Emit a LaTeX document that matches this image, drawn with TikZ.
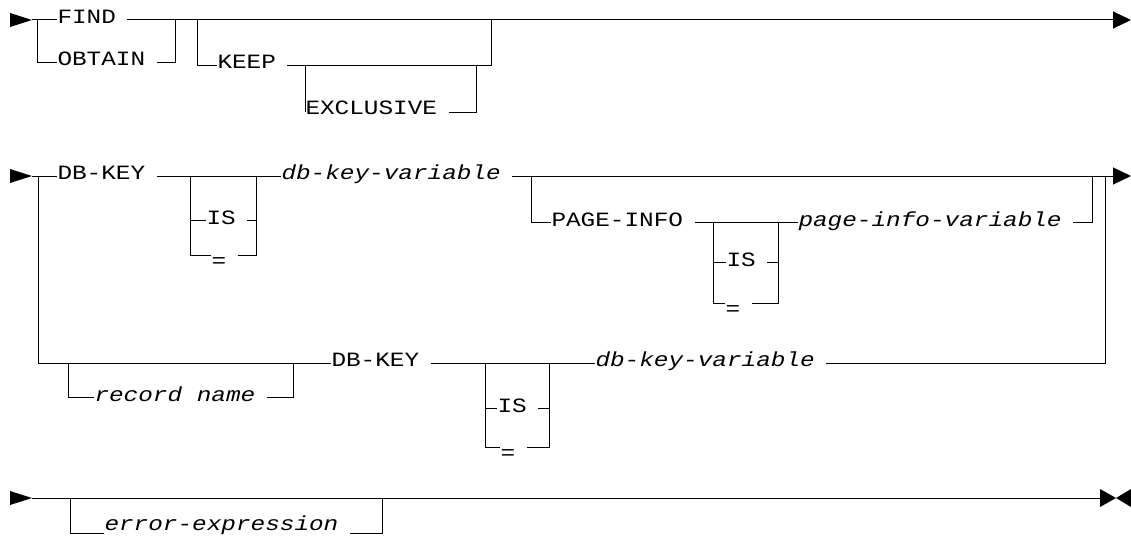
\documentclass[tikz,border=0pt]{standalone}
\usepackage{fontspec}
\setmonofont{Liberation Mono}[FakeStretch=1.2]
\usepackage{tikz}
\usetikzlibrary{arrows.meta}
\tikzset{
  kw/.style={inner sep=0pt, anchor=base west,
             font=\ttfamily\fontsize{20.3}{25}\selectfont,
             execute at end node={\hspace{11pt}}},
  var/.style={kw, font=\ttfamily\itshape\fontsize{20.3}{25}\selectfont},
  EA/.style={-{Triangle[length=18pt,width=17pt]}}
}

\begin{document}
\begin{tikzpicture}[x=1pt, y=-1pt, line width=1pt,
  SM/.style={fill=black}
]
\useasboundingbox (0,0) rectangle (1131,535);

% ---- Row 1: FIND / OBTAIN, KEEP, EXCLUSIVE ----
\coordinate (s1) at (32,20);
\coordinate (e1) at (1131,20);
\coordinate (a1) at (37,20);   \coordinate (a2) at (37,62);
\coordinate (a3) at (175,62);  \coordinate (a4) at (175,20);
\coordinate (k1) at (197,20);  \coordinate (k2) at (197,65);
\coordinate (k3) at (491,65);  \coordinate (k4) at (491,20);
\coordinate (x1) at (305,65);  \coordinate (x2) at (305,112);
\coordinate (x3) at (476,112); \coordinate (x4) at (476,65);

\node[kw] (FIND) at (57,24)  {FIND};
\node[kw] (OBT)  at (57,65)  {OBTAIN};
\node[kw] (KEEP) at (217,68) {KEEP};
\node[kw] (EXCL) at (305,114) {EXCLUSIVE};

\fill[SM] (s1) -- ++(-22,-7) -- ++(0,14) -- cycle;
\draw (s1) -- (FIND.west |- s1);
\draw[EA] (FIND.east |- s1) -- (e1);
\draw (a1) -- (a2) -- (OBT.west |- a2);
\draw (OBT.east |- a2) -- (a3) -- (a4);
\draw (k1) -- (k2) -- (KEEP.west |- k2);
\draw (KEEP.east |- k2) -- (k3) -- (k4);
\draw (x1) -- (x2) -- (EXCL.west |- x2);
\draw (EXCL.east |- x2) -- (x3) -- (x4);

% ---- Row 2: DB-KEY db-key-variable, PAGE-INFO ----
\coordinate (s2) at (32,176);
\coordinate (e2) at (1131,176);
\coordinate (i1) at (190,176); \coordinate (i2) at (190,255);
\coordinate (i3) at (256,255); \coordinate (i4) at (256,176);
\coordinate (i5) at (190,220); \coordinate (i6) at (256,220);
\coordinate (p1) at (531,176); \coordinate (p2) at (531,222);
\coordinate (q1) at (713,222); \coordinate (q2) at (713,303);
\coordinate (q3) at (778,303); \coordinate (q4) at (778,222);
\coordinate (q5) at (713,262); \coordinate (q6) at (778,262);
\coordinate (r1) at (1092,222); \coordinate (r2) at (1092,176);

\node[kw]  (DBK) at (57,179)  {DB-KEY};
\node[kw]  (ISA) at (206,224) {IS};
\node[kw]  (EQA) at (211,267) {=};
\node[var] (DBV) at (281,179) {db-key-variable};
\node[kw]  (PGI) at (551,226) {PAGE-INFO};
\node[kw]  (ISB) at (726,266) {IS};
\node[kw]  (EQB) at (725,315) {=};
\node[var] (PGV) at (798,226) {page-info-variable};

\fill[SM] (s2) -- ++(-22,-7) -- ++(0,14) -- cycle;
\draw (s2) -- (DBK.west |- s2);
\draw (DBK.east |- s2) -- (DBV.west |- s2);
\draw (i1) -- (i2) -- (EQA.west |- i2);
\draw (EQA.east |- i2) -- (i3) -- (i4);
\draw (i5) -- (ISA.west |- i5);
\draw (ISA.east |- i5) -- (i6);
\draw[EA] (DBV.east |- s2) -- (e2);
\draw (p1) -- (p2) -- (PGI.west |- p2);
\draw (PGI.east |- p2) -- (PGV.west |- p2);
\draw (PGV.east |- p2) -- (r1) -- (r2);
\draw (q1) -- (q2) -- (EQB.west |- q2);
\draw (EQB.east |- q2) -- (q3) -- (q4);
\draw (q5) -- (ISB.west |- q5);
\draw (ISB.east |- q5) -- (q6);

% ---- Row 2b: record name DB-KEY db-key-variable ----
\coordinate (b1) at (38,176);  \coordinate (b2) at (38,363);
\coordinate (c1) at (68,363);  \coordinate (c2) at (68,397);
\coordinate (c3) at (293,397); \coordinate (c4) at (293,363);
\coordinate (t1) at (485,363); \coordinate (t2) at (485,447);
\coordinate (t3) at (549,447); \coordinate (t4) at (549,363);
\coordinate (t5) at (485,408); \coordinate (t6) at (549,408);
\coordinate (m1) at (1105,363); \coordinate (m2) at (1105,176);

\node[var] (REC)  at (94,401)  {record name};
\node[kw]  (DBK2) at (331,366) {DB-KEY};
\node[kw]  (ISC)  at (497,412) {IS};
\node[kw]  (EQC)  at (500,459) {=};
\node[var] (DBV2) at (595,366) {db-key-variable};

\draw (b1) -- (b2) -- (DBK2.west |- b2);
\draw (c1) -- (c2) -- (REC.west |- c2);
\draw (REC.east |- c2) -- (c3) -- (c4);
\draw (DBK2.east |- b2) -- (DBV2.west |- b2);
\draw (t1) -- (t2) -- (EQC.west |- t2);
\draw (EQC.east |- t2) -- (t3) -- (t4);
\draw (t5) -- (ISC.west |- t5);
\draw (ISC.east |- t5) -- (t6);
\draw (DBV2.east |- b2) -- (m1) -- (m2);

% ---- Row 3: error-expression ----
\coordinate (s3) at (32,498);
\coordinate (e3) at (1100,498);
\coordinate (g1) at (70,498);  \coordinate (g2) at (70,533);
\coordinate (g3) at (382,533); \coordinate (g4) at (382,498);

\node[var] (ERR) at (104,530) {error-expression};

\fill[SM] (s3) -- ++(-22,-7) -- ++(0,14) -- cycle;
\draw (s3) -- (e3);
\fill[SM] (e3) -- ++(0,-9) -- ++(16,9) -- ++(15,-9) -- ++(0,18) -- ++(-15,-9) -- ++(-16,9) -- cycle;
\draw (g1) -- (g2) -- (ERR.west |- g2);
\draw (ERR.east |- g2) -- (g3) -- (g4);

\end{tikzpicture}
\end{document}
